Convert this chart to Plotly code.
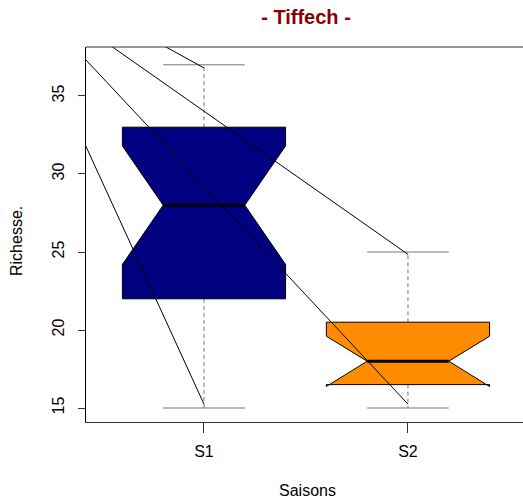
import plotly.graph_objects as go

# boxplot stats (R style notched boxplot)
saisons = ['S1', 'S2']
whisk_lo = [15, 15]
q1 = [22, 16.5]
median = [28, 18]
q3 = [33, 20.5]
whisk_hi = [37, 25]
notch_lo = [24.2, 16.38]
notch_hi = [31.8, 19.6]
fills = ['#000080', '#ff8c00']

# the stray black lines (start -> end, data coords)
line_x0 = [0, 0, 0, 0]
line_y0 = [43.8, 43.2, 43.2, 44.0]
line_x1 = [1, 2, 2, 1]
line_y1 = [15.25, 15.25, 24.85, 36.8]

yticks = [15, 20, 25, 30, 35]

hw = 0.4      # box half width
nw = 0.2      # notch / cap half width

W, H = 523, 501
L, R, T, B = 86, 0, 47, 79

fig = go.Figure()

for i, s in enumerate(saisons):
    c = i + 1
    # whiskers
    for a, b in [(q3[i], whisk_hi[i]), (q1[i], whisk_lo[i])]:
        fig.add_trace(go.Scatter(x=[c, c], y=[a, b], mode='lines',
                                 line=dict(color='#777777', width=1, dash='4px,3px'),
                                 hoverinfo='skip', showlegend=False))
    for v in [whisk_hi[i], whisk_lo[i]]:
        fig.add_trace(go.Scatter(x=[c - nw, c + nw], y=[v, v], mode='lines',
                                 line=dict(color='#777777', width=1),
                                 hoverinfo='skip', showlegend=False))
    # notched box polygon
    px = [c - hw, c - hw, c - nw, c - hw, c - hw, c + hw, c + hw, c + nw, c + hw, c + hw, c - hw]
    py = [q1[i], notch_lo[i], median[i], notch_hi[i], q3[i], q3[i], notch_hi[i], median[i],
          notch_lo[i], q1[i], q1[i]]
    fig.add_trace(go.Scatter(x=px, y=py, mode='lines', fill='toself', fillcolor=fills[i],
                             line=dict(color='black', width=1),
                             hoverinfo='skip', showlegend=False))
    # median
    fig.add_trace(go.Scatter(x=[c - nw, c + nw], y=[median[i], median[i]], mode='lines',
                             line=dict(color='black', width=3),
                             hoverinfo='skip', showlegend=False))

for x0, y0, x1, y1 in zip(line_x0, line_y0, line_x1, line_y1):
    fig.add_trace(go.Scatter(x=[x0, x1], y=[y0, y1], mode='lines',
                             line=dict(color='black', width=1),
                             hoverinfo='skip', showlegend=False))

# top frame line (right side is cut off in the original)
fig.add_shape(type='line', xref='paper', yref='paper', x0=0, x1=1, y0=1, y1=1,
              line=dict(color='#333333', width=1))

# axis titles placed like R's mtext
fig.add_annotation(text='Saisons', xref='paper', yref='paper',
                   x=(307 - L) / (W - L - R), y=-(490 - (H - B)) / (H - T - B),
                   xanchor='center', yanchor='middle', showarrow=False,
                   font=dict(size=16))
fig.add_annotation(text='Richesse.', xref='paper', yref='paper',
                   x=-(L - 16) / (W - L - R), y=((H - B) - 241) / (H - T - B),
                   xanchor='center', yanchor='middle', showarrow=False,
                   textangle=-90, font=dict(size=16))

fig.update_layout(
    width=W,
    height=H,
    paper_bgcolor='white',
    plot_bgcolor='white',
    font=dict(family='Liberation Sans, Arial', size=16, color='black'),
    title=dict(text='<b>- Tiffech -</b>', x=306 / W, xanchor='center',
               y=1 - 17 / H, yanchor='middle', automargin=False,
               font=dict(size=20, color='#8b0000')),
    margin=dict(l=L, r=R, t=T, b=B, autoexpand=False),
    xaxis=dict(
        range=[0.4216, 2.564],
        tickvals=[1, 2],
        ticktext=saisons,
        ticks='outside', ticklen=10, tickcolor='#333333', tickwidth=1,
        showline=True, linecolor='#333333', linewidth=1,
        showgrid=False, zeroline=False,
        ticklabelstandoff=5,
        automargin=False,
    ),
    yaxis=dict(
        range=[14.103, 38.14],
        tickvals=yticks,
        ticks='outside', ticklen=7, tickcolor='#333333', tickwidth=1,
        tickangle=-90,
        showline=True, linecolor='black', linewidth=1,
        showgrid=False, zeroline=False,
        ticklabelstandoff=8,
        automargin=False,
    ),
)

# drop the default page margin so the figure sits at the window's corner
fig.write_html('out.html', config={'displayModeBar': False},
               post_script="document.body.style.margin='0';document.body.style.overflow='hidden';")
